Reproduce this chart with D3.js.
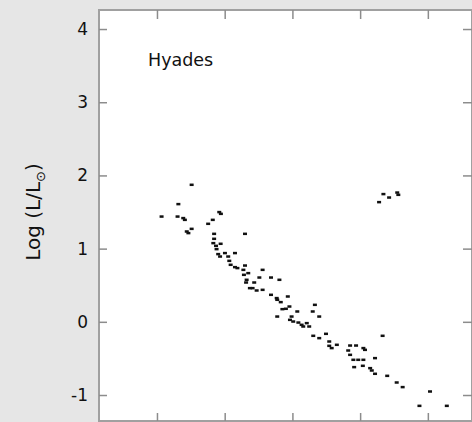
<!DOCTYPE html>
<html>
<head>
<meta charset="utf-8">
<script src="https://cdn.jsdelivr.net/npm/d3@7"></script>
<style>
  body { margin: 0; overflow: hidden; background: #e6e6e6; }
  .tick text { font-family: "DejaVu Sans", sans-serif; font-size: 17px; fill: #111; }
</style>
</head>
<body>
<div id="chart"></div>
<script>
// Hyades colour-magnitude data
var bv = [0.128, 0.079, 0.017, 0.076, 0.097, 0.103, 0.230, 0.236, 0.206, 0.189,
          0.128, 0.110, 0.116, 0.211, 0.325, 0.211, 0.208, 0.235, 0.218, 0.220,
          0.226, 0.233, 0.251, 0.263, 0.288, 0.267, 0.272, 0.288, 0.297, 0.325,
          0.319, 0.337, 0.390, 0.321, 0.331, 0.329, 0.378, 0.421, 0.452, 0.359,
          0.343, 0.353, 0.368, 0.390, 0.421, 0.442, 0.483, 0.444, 0.457, 0.489,
          0.583, 0.463, 0.476, 0.518, 0.575, 0.444, 0.497, 0.599, 0.491, 0.503,
          0.522, 0.534, 0.553, 0.562, 0.540, 0.577, 0.599, 0.624, 0.636, 0.636,
          0.664, 0.645, 0.713, 0.735, 0.762, 0.768, 0.706, 0.713, 0.725, 0.743,
          0.762, 0.805, 0.728, 0.760, 0.787, 0.793, 0.805, 0.833, 0.850, 0.885,
          0.907, 1.008, 0.969, 1.070,
          0.836, 0.857, 0.887, 0.891, 0.820];
var logL = [1.872, 1.608, 1.438, 1.438, 1.417, 1.393, 1.499, 1.475, 1.393, 1.339,
            1.270, 1.234, 1.212, 1.202, 1.202, 1.134, 1.075, 1.066, 1.038, 0.993,
            0.925, 0.892, 0.939, 0.892, 0.939, 0.833, 0.779, 0.747, 0.734, 0.769,
            0.710, 0.665, 0.710, 0.642, 0.574, 0.537, 0.605, 0.605, 0.574, 0.537,
            0.460, 0.460, 0.428, 0.437, 0.369, 0.324, 0.346, 0.301, 0.269, 0.209,
            0.232, 0.173, 0.178, 0.141, 0.141, 0.072, 0.072, 0.072, 0.027, 0.004,
            -0.010, -0.041, -0.018, -0.064, -0.064, -0.191, -0.223, -0.164, -0.269, -0.328,
            -0.314, -0.359, -0.324, -0.324, -0.359, -0.383, -0.392, -0.451, -0.519, -0.519,
            -0.519, -0.496, -0.619, -0.601, -0.633, -0.665, -0.710, -0.191, -0.738, -0.829,
            -0.892, -0.952, -1.148, -1.148,
            1.745, 1.698, 1.766, 1.735, 1.635];
var yTicks = [-1, 0, 1, 2, 3, 4];
var xTicks = [0, 0.25, 0.5, 0.75, 1.0];
var clusterName = "Hyades";

var stars = bv.map(function(d, i) { return {bv: d, logL: logL[i]}; });

var svgWidth = 472, svgHeight = 422;
var plot = {left: 99, top: 10, right: 472, bottom: 421};

var svg = d3.select("#chart").append("svg")
    .attr("width", svgWidth)
    .attr("height", svgHeight);

svg.append("rect")
    .attr("width", svgWidth).attr("height", svgHeight)
    .attr("fill", "#e6e6e6");

var x = d3.scaleLinear().domain([-0.214, 1.163]).range([plot.left, plot.right]);
var y = d3.scaleLinear().domain([-1.355, 4.26]).range([plot.bottom, plot.top]);

// plot area
svg.append("rect")
    .attr("x", plot.left).attr("y", plot.top)
    .attr("width", plot.right - plot.left).attr("height", plot.bottom - plot.top)
    .attr("fill", "#fff")
    .attr("stroke", "#a0a0a0")
    .attr("stroke-width", 2);

// axes, ticks point inward; plain hyphen for negatives like the original
var leftAxis = d3.axisLeft(y).tickValues(yTicks).tickSize(-8).tickPadding(11)
    .tickFormat(d => String(d));
var rightAxis = d3.axisRight(y).tickValues(yTicks).tickSize(-9).tickFormat("");
var topAxis = d3.axisTop(x).tickValues(xTicks).tickSize(-9).tickFormat("");
var bottomAxis = d3.axisBottom(x).tickValues(xTicks).tickSize(-8).tickFormat("");

function styleAxis(g) {
    g.select(".domain").remove();
    g.selectAll(".tick line").attr("stroke", "#8c8c8c").attr("stroke-width", 1.5);
}

svg.append("g").attr("transform", `translate(${plot.left},0)`).call(leftAxis).call(styleAxis);
svg.append("g").attr("transform", `translate(${plot.right},0)`).call(rightAxis).call(styleAxis);
svg.append("g").attr("transform", `translate(0,${plot.top})`).call(topAxis).call(styleAxis);
svg.append("g").attr("transform", `translate(0,${plot.bottom})`).call(bottomAxis).call(styleAxis);

// stars
svg.append("g").selectAll("rect")
    .data(stars)
    .enter()
    .append("rect")
    .attr("x", d => x(d.bv) - 2)
    .attr("y", d => y(d.logL) - 1.25)
    .attr("width", 4)
    .attr("height", 2.5)
    .attr("fill", "#111");

// cluster label
svg.append("text")
    .attr("x", 148)
    .attr("y", 66)
    .attr("font-family", "DejaVu Sans, sans-serif")
    .attr("font-size", "17.5px")
    .attr("fill", "#111")
    .text(clusterName);

// y axis label
var ylab = svg.append("text")
    .attr("transform", "translate(40,212) rotate(-90)")
    .attr("text-anchor", "middle")
    .attr("font-family", "DejaVu Sans, sans-serif")
    .attr("font-size", "20px")
    .attr("fill", "#111");
ylab.append("tspan").text("Log (L/L");
ylab.append("tspan").attr("font-size", "13px").attr("dy", 5).text("\u2299");
ylab.append("tspan").attr("dy", -5).text(")");
</script>
</body>
</html>
